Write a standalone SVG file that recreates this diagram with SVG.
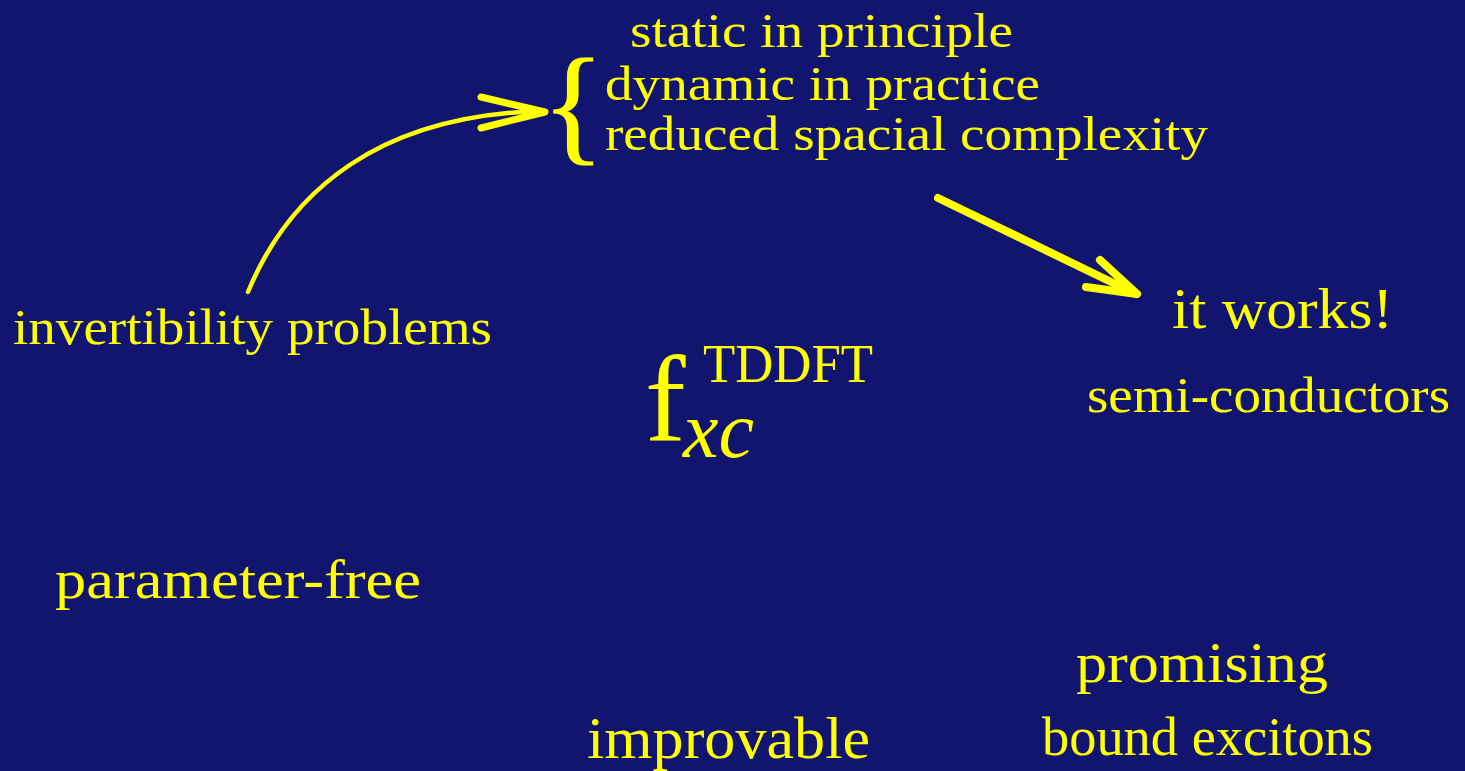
<svg xmlns="http://www.w3.org/2000/svg" width="1465" height="771" viewBox="0 0 1465 771">
<style>
.t{font-family:"Liberation Serif","Times New Roman",serif;fill:#ffff00;}
.c{fill:none;stroke:#ffff00;stroke-linecap:round;stroke-linejoin:round;}
</style>
<rect x="0" y="0" width="1465" height="771" fill="#121570"/>
<g id="connectors">
<path class="c" d="M248,292 C290,190 380,115 543,111" stroke-width="4.5"/>
<path class="c" d="M481,97 L545,112 L481,128" stroke-width="7"/>
<path class="c" d="M938,198 L1136,294" stroke-width="8"/>
<path class="c" d="M1100,260 L1137,294 L1086,287" stroke-width="8"/>
</g>
<g id="brace-group">
<text class="t" x="542" y="148" font-size="130" stroke="#ffff00" stroke-width="1">{</text>
<text class="t" x="630" y="47" font-size="48" textLength="383" lengthAdjust="spacingAndGlyphs">static in principle</text>
<text class="t" x="605" y="100" font-size="48" textLength="435" lengthAdjust="spacingAndGlyphs">dynamic in practice</text>
<text class="t" x="605" y="150" font-size="48" textLength="603" lengthAdjust="spacingAndGlyphs">reduced spacial complexity</text>
</g>
<g id="invertibility">
<text class="t" x="13" y="344" font-size="50" textLength="479" lengthAdjust="spacingAndGlyphs">invertibility problems</text>
</g>
<g id="works">
<text class="t" x="1172" y="328" font-size="58" textLength="221" lengthAdjust="spacingAndGlyphs">it works!</text>
<text class="t" x="1087" y="412" font-size="51" textLength="363" lengthAdjust="spacingAndGlyphs">semi-conductors</text>
</g>
<g id="fxc">
<text class="t" x="645" y="440" font-size="122">f</text>
<text class="t" x="703" y="382" font-size="54" textLength="170" lengthAdjust="spacingAndGlyphs">TDDFT</text>
<text class="t" x="683" y="457" font-size="80" font-style="italic">xc</text>
</g>
<g id="parameter-free">
<text class="t" x="55" y="598" font-size="54" textLength="366" lengthAdjust="spacingAndGlyphs">parameter-free</text>
</g>
<g id="promising">
<text class="t" x="1076" y="682" font-size="58" textLength="252" lengthAdjust="spacingAndGlyphs">promising</text>
<text class="t" x="1042" y="755" font-size="54" textLength="331" lengthAdjust="spacingAndGlyphs">bound excitons</text>
</g>
<g id="improvable">
<text class="t" x="587" y="758" font-size="60" textLength="283" lengthAdjust="spacingAndGlyphs">improvable</text>
</g>
</svg>
